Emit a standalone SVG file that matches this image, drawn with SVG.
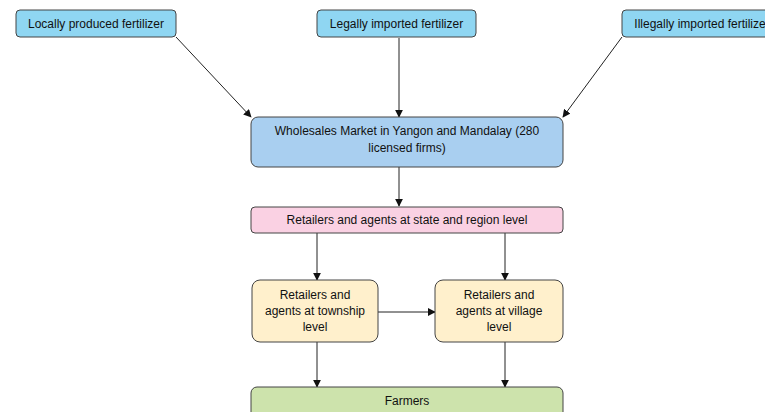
<svg xmlns="http://www.w3.org/2000/svg" width="765" height="412" viewBox="0 0 765 412">
<defs>
<marker id="arr" viewBox="0 0 10 10" refX="9" refY="5" markerWidth="8" markerHeight="8" markerUnits="userSpaceOnUse" orient="auto">
<path d="M0,0 L10,5 L0,10 z" fill="#111"/>
</marker>
<style>
text{font-family:"Liberation Sans",Arial,sans-serif;font-size:12px;fill:#111;text-anchor:middle}
.n rect{stroke:#444;stroke-width:1}
.src rect{fill:#8fd6f2}
.edge{stroke:#222;stroke-width:1;fill:none;marker-end:url(#arr)}
</style>
</defs>
<rect width="765" height="412" fill="#fff"/>
<g id="connectors">
<line class="edge" x1="176" y1="37" x2="251" y2="117"/>
<line class="edge" x1="399" y1="38" x2="399" y2="117"/>
<line class="edge" x1="622" y1="37" x2="563" y2="117"/>
<line class="edge" x1="399" y1="167" x2="399" y2="206"/>
<line class="edge" x1="317" y1="233" x2="317" y2="280"/>
<line class="edge" x1="505" y1="233" x2="505" y2="280"/>
<line class="edge" x1="378" y1="312" x2="435" y2="312"/>
<line class="edge" x1="317" y1="342" x2="317" y2="387"/>
<line class="edge" x1="505" y1="342" x2="505" y2="387"/>
</g>
<g id="local" class="n src"><rect x="16" y="10" width="160" height="27" rx="4"/><text x="96" y="28">Locally produced fertilizer</text></g>
<g id="legal" class="n src"><rect x="317" y="10" width="159" height="27" rx="4"/><text x="396.5" y="28">Legally imported fertilizer</text></g>
<g id="illegal" class="n src"><rect x="622" y="10" width="160" height="27" rx="4"/><text x="702" y="28">Illegally imported fertilizer</text></g>
<g id="wholesale" class="n"><rect x="251" y="117" width="312" height="50" rx="7" fill="#a9cff0"/><text x="407" y="135">Wholesales Market in Yangon and Mandalay (280</text><text x="407" y="152">licensed firms)</text></g>
<g id="state" class="n"><rect x="251" y="207" width="312" height="26" rx="4" fill="#fad1e3"/><text x="407" y="224">Retailers and agents at state and region level</text></g>
<g id="township" class="n"><rect x="252" y="280" width="126" height="62" rx="8" fill="#fff0cc"/><text x="315" y="299">Retailers and</text><text x="315" y="315">agents at township</text><text x="315" y="331">level</text></g>
<g id="village" class="n"><rect x="435" y="280" width="128" height="62" rx="8" fill="#fff0cc"/><text x="499" y="299">Retailers and</text><text x="499" y="315">agents at village</text><text x="499" y="331">level</text></g>
<g id="farmers" class="n"><rect x="251" y="387" width="312" height="40" rx="6" fill="#cde3ac"/><text x="407" y="405">Farmers</text></g>
</svg>
